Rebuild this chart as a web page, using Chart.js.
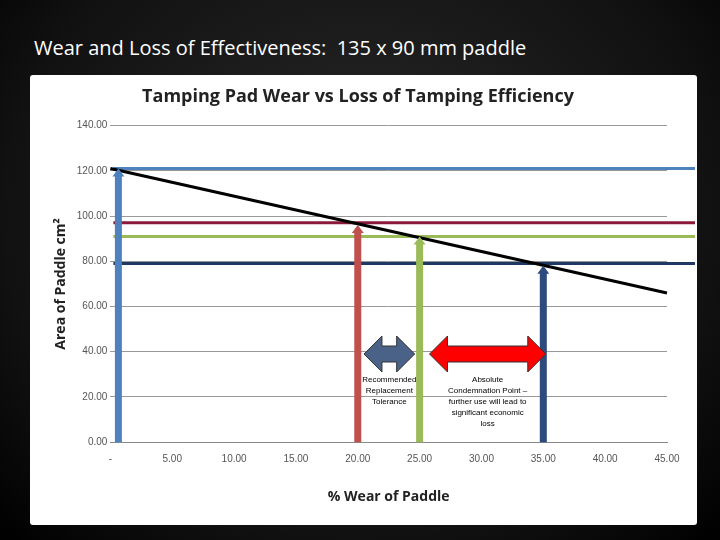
<!DOCTYPE html>
<html>
<head>
<meta charset="utf-8">
<script src="https://cdn.jsdelivr.net/npm/chart.js@4"></script>
<style>
  body { margin: 0; width: 720px; height: 540px; overflow: hidden;
         background: radial-gradient(ellipse at 50% 40%, #2a2a2a 0%, #111 70%, #000 100%);
         font-family: "Open Sans", sans-serif; }
  #title { position: absolute; left: 34px; top: 34px; color: #fff; font-size: 20px; }
  #panel { position: absolute; left: 30px; top: 75px; width: 667px; height: 450px; background: #fff; border-radius: 3px; }
</style>
</head>
<body>
<div id="title">Wear and Loss of Effectiveness:&nbsp; 135 x 90 mm paddle</div>
<div id="panel"><canvas id="chart0" width="667" height="450"></canvas></div>
<script>
// data
const wearX = [0, 45];
const areaY = [121, 66];
const levels = [121, 97, 91, 79];
const levelColors = ['#4f81bd', '#8b1a3a', '#9bbb59', '#1f3864'];
const arrowX = [0, 20, 25, 35];
const arrowTop = [121, 96, 91, 78];
const arrowColors = ['#4f81bd', '#c0504d', '#9bbb59', '#2c4a7c'];
const spans = [[20.5, 24.6], [25.8, 35.2]];
const spanY = 39;
const spanColors = ['#4a6288', '#ff0000'];
const spanTexts = [['Recommended', 'Replacement', 'Tolerance'],
  ['Absolute', 'Condemnation Point \u2013', 'further use will lead to', 'significant economic', 'loss']];

const marks = {
  id: 'marks',
  afterDatasetsDraw(chart) {
    const { ctx, scales: { x, y }, chartArea } = chart;
    ctx.save();
    // horizontal levels
    levels.forEach((v, i) => {
      ctx.strokeStyle = levelColors[i]; ctx.lineWidth = 3;
      ctx.beginPath(); ctx.moveTo(chartArea.left + 3, y.getPixelForValue(v));
      ctx.lineTo(chart.width - 2, y.getPixelForValue(v)); ctx.stroke();
    });
    // black wear line on top
    ctx.strokeStyle = '#000'; ctx.lineWidth = 3;
    ctx.beginPath();
    ctx.moveTo(x.getPixelForValue(wearX[0]), y.getPixelForValue(areaY[0]));
    ctx.lineTo(x.getPixelForValue(wearX[1]), y.getPixelForValue(areaY[1]));
    ctx.stroke();
    // vertical arrows
    arrowX.forEach((v, i) => {
      const px = x.getPixelForValue(v) + (i === 0 ? 8 : 0);
      const top = y.getPixelForValue(arrowTop[i]);
      const bot = y.getPixelForValue(0);
      ctx.fillStyle = arrowColors[i];
      ctx.beginPath();
      ctx.moveTo(px - 3.5, bot); ctx.lineTo(px - 3.5, top + 8); ctx.lineTo(px - 6, top + 8);
      ctx.lineTo(px, top); ctx.lineTo(px + 6, top + 8); ctx.lineTo(px + 3.5, top + 8);
      ctx.lineTo(px + 3.5, bot); ctx.closePath(); ctx.fill();
    });
    // double arrows + notes
    spans.forEach((s, i) => {
      const x0 = x.getPixelForValue(s[0]), x1 = x.getPixelForValue(s[1]);
      const cy = y.getPixelForValue(spanY), hh = 18, sh = 8, hw = 18;
      ctx.fillStyle = spanColors[i]; ctx.strokeStyle = '#333'; ctx.lineWidth = 1;
      ctx.beginPath();
      ctx.moveTo(x0, cy); ctx.lineTo(x0 + hw, cy - hh); ctx.lineTo(x0 + hw, cy - sh);
      ctx.lineTo(x1 - hw, cy - sh); ctx.lineTo(x1 - hw, cy - hh); ctx.lineTo(x1, cy);
      ctx.lineTo(x1 - hw, cy + hh); ctx.lineTo(x1 - hw, cy + sh); ctx.lineTo(x0 + hw, cy + sh);
      ctx.lineTo(x0 + hw, cy + hh); ctx.closePath(); ctx.fill(); ctx.stroke();
      ctx.fillStyle = '#000'; ctx.font = '8px "Liberation Sans"'; ctx.textAlign = 'center';
      spanTexts[i].forEach((t, j) => ctx.fillText(t, (x0 + x1) / 2, cy + 28 + j * 11));
    });
    ctx.restore();
  }
};

new Chart(document.getElementById('chart0'), {
  type: 'scatter',
  data: { datasets: [{ data: [], showLine: false }] },
  options: {
    responsive: false, animation: false,
    layout: { padding: { left: 19, right: 30, top: 9, bottom: 16 } },
    plugins: {
      legend: { display: false }, tooltip: { enabled: false },
      title: { display: true, text: 'Tamping Pad Wear vs Loss of Tamping Efficiency', color: '#222',
               font: { family: 'Open Sans', size: 18, weight: 'bold' }, padding: { top: 2, bottom: 18 } }
    },
    scales: {
      x: { type: 'linear', min: 0, max: 45,
           ticks: { stepSize: 5, color: '#555', font: { size: 10 }, callback: v => v === 0 ? '-' : v.toFixed(2) },
           grid: { display: false }, border: { color: '#888' },
           title: { display: true, text: '% Wear of Paddle', color: '#222', font: { family: 'Open Sans', size: 14, weight: 'bold' }, padding: { top: 20 } } },
      y: { min: 0, max: 140,
           ticks: { stepSize: 20, color: '#555', font: { size: 10 }, callback: v => v.toFixed(2) },
           grid: { color: '#999', drawTicks: false }, border: { display: false },
           title: { display: true, text: 'Area of Paddle cm\u00b2', color: '#222', font: { family: 'Open Sans', size: 14, weight: 'bold' } } }
    }
  },
  plugins: [marks]
});
</script>
</body>
</html>
